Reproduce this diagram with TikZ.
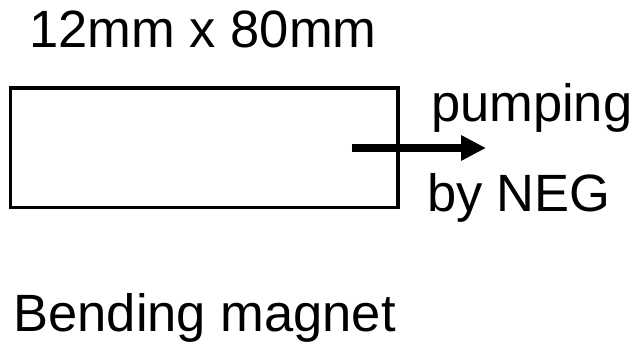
\documentclass[tikz,border=0pt]{standalone}
\usepackage{fontspec}
\setmainfont{Liberation Sans}
\usetikzlibrary{arrows.meta}
\tikzset{
  lbl/.style={anchor=base west, inner sep=0pt, outer sep=0pt, font=\fontsize{52.5}{52.5}\selectfont},
  boxst/.style={draw, line width=3.5pt, minimum width=387.7pt, minimum height=119.5pt, inner sep=0pt, outer sep=0pt},
  arr/.style={line width=7.5pt, -{Triangle[length=25pt,width=24pt]}}
}
\begin{document}
\begin{tikzpicture}[x=1pt,y=-1pt]
\useasboundingbox (0,0) rectangle (633,344);
\node[lbl] (size) at (29.5,48) {12mm x 80mm};
\node[boxst] (box) at (204.2,147.7) {};
\coordinate (a0) at (351.7,148);
\coordinate (a1) at (486,148);
\draw[arr] (a0) -- (a1);
\node[lbl] (pump) at (431,122) {pumping};
\node[lbl] (neg) at (427,212) {by NEG};
\node[lbl] (bend) at (13.5,332) {Bending magnet};
\end{tikzpicture}
\end{document}
